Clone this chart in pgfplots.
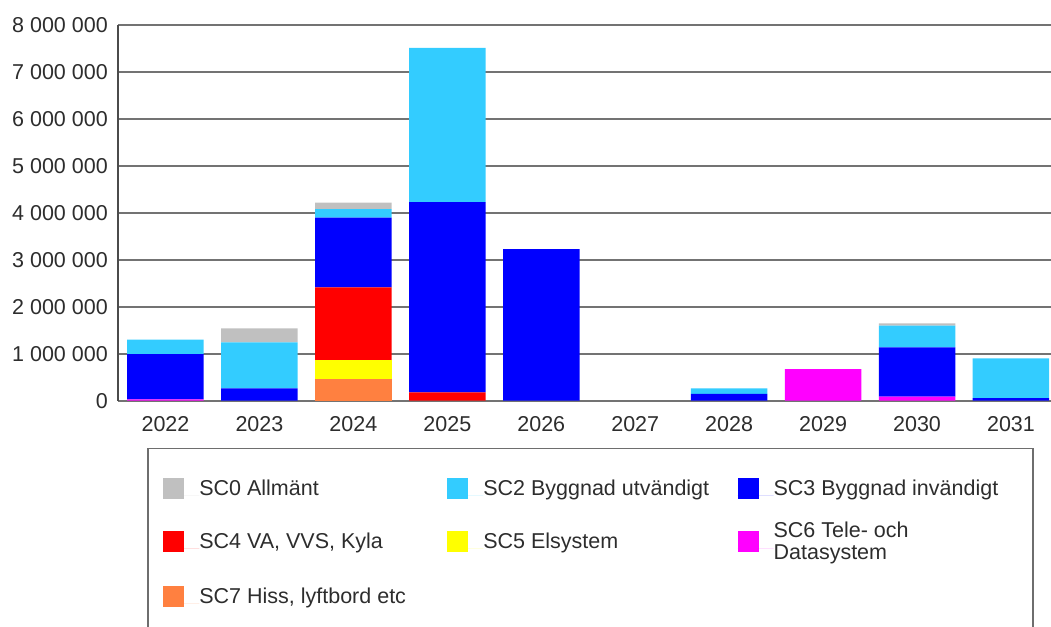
\documentclass[border=0pt]{standalone}
\usepackage{fontspec}
\setmainfont{Liberation Sans}
\usepackage{pgfplots}
\usepackage{pgfplotstable}
\pgfplotsset{compat=1.18}
\definecolor{scZero}{RGB}{192,192,192}
\definecolor{scTwo}{RGB}{51,204,255}
\definecolor{scThree}{RGB}{0,0,255}
\definecolor{scFour}{RGB}{255,0,0}
\definecolor{scFive}{RGB}{255,255,0}
\definecolor{scSix}{RGB}{255,0,255}
\definecolor{scSeven}{RGB}{255,128,64}
\definecolor{txt}{RGB}{45,45,45}
\definecolor{gridc}{RGB}{115,115,115}
\definecolor{yaxc}{RGB}{75,75,75}
\definecolor{framec}{RGB}{110,110,110}

\pgfplotstableread{
x SCseven SCsix SCfive SCfour SCthree SCtwo SCzero
0 0 0.030 0 0 0.964 0.306 0
1 0 0 0 0 0.264 0.980 0.298
2 0.456 0 0.411 1.548 1.482 0.185 0.134
3 0 0 0 0.179 4.052 3.280 0
4 0 0 0 0 3.230 0 0
5 0 0 0 0 0 0 0
6 0 0 0 0 0.143 0.121 0
7 0 0.675 0 0 0 0 0
8 0 0.085 0 0 1.052 0.460 0.051
9 0 0 0 0 0.057 0.846 0
}\datatable

\begin{document}
\begin{tikzpicture}[font=\fontsize{21.5}{23.5}\selectfont]
\begin{axis}[
  name=ax, at={(0,0)}, anchor=south west,
  scale only axis, width=933pt, height=375.7pt,
  xmin=-0.5056, xmax=9.426, ymin=0, ymax=8,
  ybar stacked, bar width=76.5pt,
  axis lines*=left, clip=false,
  x axis line style={color=gridc, line width=1.6pt},
  y axis line style={color=yaxc, line width=1.6pt},
  ymajorgrids, grid style={line width=1.6pt, color=gridc},
  major tick length=0pt,
  xtick={0,1,2,3,4,5,6,7,8,9},
  xticklabels={2022,2023,2024,2025,2026,2027,2028,2029,2030,2031},
  ytick={0,1,2,3,4,5,6,7,8},
  yticklabels={0,1 000 000,2 000 000,3 000 000,4 000 000,5 000 000,6 000 000,7 000 000,8 000 000},
  xticklabel style={inner sep=0pt, yshift=-15.5pt, text=txt},
  yticklabel style={inner sep=0pt, xshift=-10pt, text=txt},
  legend columns=3, reverse legend,
  legend cell align=left,
  legend style={at={(0.04855,-0.2065)}, anchor=north west, draw=none, fill=none,
    inner sep=0pt, outer sep=0pt, column sep=0pt, row sep=30pt,
    cells={anchor=base west},
    nodes={inner sep=0pt, outer sep=0pt, text=txt}},
  legend image code/.code={\path[#1] (0pt,-3.6pt) rectangle (21pt,17.4pt); \path (0pt,0pt) -- (36pt,0pt);},
]
\addplot[fill=scSeven, draw=none] table[x=x, y=SCseven] {\datatable};
\addlegendentry{\makebox[248pt][l]{\rule[-5pt]{0pt}{26.8pt}SC7 Hiss, lyftbord etc}}
\addplot[fill=scSix, draw=none] table[x=x, y=SCsix] {\datatable};
\addlegendentry{\raisebox{-1.1pt}[19pt][0pt]{\renewcommand{\arraystretch}{0.92}\begin{tabular}{@{}l@{}}SC6 Tele- och\\Datasystem\end{tabular}}}
\addplot[fill=scFive, draw=none] table[x=x, y=SCfive] {\datatable};
\addlegendentry{\makebox[254.3pt][l]{\rule[-5pt]{0pt}{19pt}SC5 Elsystem}}
\addplot[fill=scFour, draw=none] table[x=x, y=SCfour] {\datatable};
\addlegendentry{\makebox[248pt][l]{\rule[-5pt]{0pt}{19pt}SC4 VA, VVS, Kyla}}
\addplot[fill=scThree, draw=none] table[x=x, y=SCthree] {\datatable};
\addlegendentry{\rule[-5pt]{0pt}{19pt}SC3 Byggnad invändigt}
\addplot[fill=scTwo, draw=none] table[x=x, y=SCtwo] {\datatable};
\addlegendentry{\makebox[254.3pt][l]{\rule[-5pt]{0pt}{19pt}SC2 Byggnad utvändigt}}
\addplot[fill=scZero, draw=none] table[x=x, y=SCzero] {\datatable};
\addlegendentry{\makebox[248pt][l]{\rule[-5pt]{0pt}{19pt}SC0 Allmänt}}
\draw[draw=framec, line width=1.5pt] (axis description cs:0.03215,-0.1273) rectangle (axis description cs:0.98071,-0.70);
\end{axis}
\pgfresetboundingbox
\path[use as bounding box] (-118pt,-225.3pt) rectangle (933pt,400.7pt);
\end{tikzpicture}
\end{document}
